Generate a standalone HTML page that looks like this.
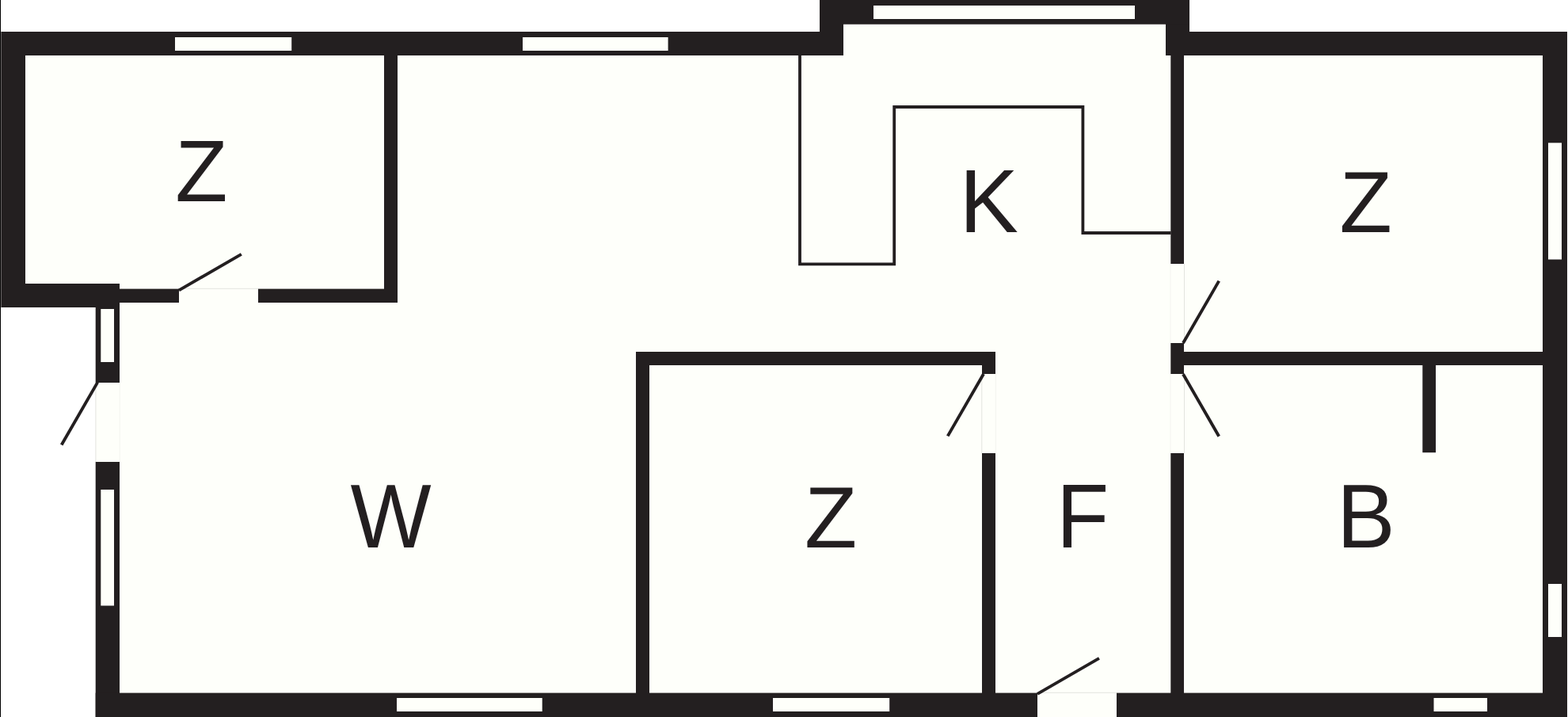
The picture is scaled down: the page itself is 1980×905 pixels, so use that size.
<!DOCTYPE html>
<html lang="de">
<head>
<meta charset="utf-8">
<title>Grundriss</title>
<style>
html,body{margin:0;padding:0;background:#fff;overflow:hidden}
svg{display:block}
text{font-family:"Liberation Sans",sans-serif;fill:#231f20;text-rendering:geometricPrecision}
</style>
</head>
<body>
<svg width="1980" height="905" viewBox="0 0 1980 905">
<rect x="0" y="0" width="1980" height="905" fill="#fefffa"/>
<g shape-rendering="auto">
<rect x="0" y="0" width="1035" height="40" fill="#fff"/>
<rect x="1502" y="0" width="478" height="40" fill="#fff"/>
<rect x="1979" y="0" width="1" height="905" fill="#fff"/>
<rect x="0" y="388" width="120.7" height="517" fill="#fff"/>
<rect x="0" y="0" width="1" height="905" fill="#000"/>
<rect x="1" y="40" width="1" height="348" fill="#6b6768"/>
<rect x="2" y="40" width="1063" height="30" fill="#231f20"/>
<rect x="2" y="40" width="30" height="348" fill="#231f20"/>
<rect x="2" y="358" width="149" height="30" fill="#231f20"/>
<rect x="151" y="364.6" width="75" height="17.4" fill="#231f20"/>
<rect x="326" y="364.6" width="176" height="17.4" fill="#231f20"/>
<rect x="485" y="70" width="17" height="312" fill="#231f20"/>
<rect x="120.7" y="388" width="30.3" height="95" fill="#231f20"/>
<rect x="120.7" y="583" width="30.3" height="322" fill="#231f20"/>
<rect x="120.7" y="874.6" width="1189.3" height="30.4" fill="#231f20"/>
<rect x="1410" y="874.6" width="569" height="30.4" fill="#231f20"/>
<rect x="1948" y="40" width="31" height="865" fill="#231f20"/>
<rect x="1472" y="40" width="507" height="30" fill="#231f20"/>
<rect x="1472" y="0" width="30" height="70" fill="#231f20"/>
<rect x="1035" y="0" width="467" height="30.7" fill="#231f20"/>
<rect x="1035" y="0" width="30" height="70" fill="#231f20"/>
<rect x="1478.3" y="70" width="16.7" height="263" fill="#231f20"/>
<rect x="1478.3" y="433" width="16.7" height="39" fill="#231f20"/>
<rect x="1478.3" y="572" width="16.7" height="303" fill="#231f20"/>
<rect x="1495" y="444" width="453" height="17" fill="#231f20"/>
<rect x="1796.3" y="461" width="16.7" height="110.2" fill="#231f20"/>
<rect x="803" y="444" width="454" height="17" fill="#231f20"/>
<rect x="803" y="444" width="17" height="431" fill="#231f20"/>
<rect x="1240" y="444" width="17" height="28" fill="#231f20"/>
<rect x="1240" y="572" width="17" height="303" fill="#231f20"/>
<rect x="221" y="47" width="147.2" height="17" fill="#fefffa"/>
<rect x="660" y="47" width="183.6" height="17" fill="#fefffa"/>
<rect x="1103" y="7" width="330" height="17" fill="#fefffa"/>
<rect x="127.3" y="390" width="16.7" height="67" fill="#fefffa"/>
<rect x="127.3" y="618" width="16.7" height="146.5" fill="#fefffa"/>
<rect x="501" y="881" width="183.7" height="17" fill="#fefffa"/>
<rect x="976" y="881" width="147.2" height="17" fill="#fefffa"/>
<rect x="1810.5" y="881" width="67.5" height="17" fill="#fefffa"/>
<rect x="1955" y="180.3" width="17" height="147.2" fill="#fefffa"/>
<rect x="1955" y="737" width="17" height="67" fill="#fefffa"/>
<rect x="226" y="364.6" width="100" height="17.4" fill="#fefffa"/>
<rect x="121" y="483" width="30" height="100" fill="#fefffa"/>
<rect x="1478.3" y="333" width="16.7" height="100" fill="#fefffa"/>
<rect x="1478.3" y="472" width="16.7" height="100" fill="#fefffa"/>
<rect x="1240" y="472" width="17" height="100" fill="#fefffa"/>
<rect x="1310" y="874.6" width="100" height="30.4" fill="#fefffa"/>
<line x1="226" y1="364.3" x2="326" y2="364.3" stroke="#e3e4df" stroke-width="1"/>
<line x1="120.9" y1="483" x2="120.9" y2="583" stroke="#e3e4df" stroke-width="1"/>
<line x1="151.2" y1="483" x2="151.2" y2="583" stroke="#f3f4ef" stroke-width="1"/>
<line x1="1495.5" y1="333" x2="1495.5" y2="433" stroke="#e3e4df" stroke-width="1"/>
<line x1="1478" y1="333" x2="1478" y2="433" stroke="#f3f4ef" stroke-width="1"/>
<line x1="1495.5" y1="472" x2="1495.5" y2="572" stroke="#e3e4df" stroke-width="1"/>
<line x1="1478" y1="472" x2="1478" y2="572" stroke="#f3f4ef" stroke-width="1"/>
<line x1="1239.8" y1="472" x2="1239.8" y2="572" stroke="#e3e4df" stroke-width="1"/>
<line x1="1257.3" y1="472" x2="1257.3" y2="572" stroke="#f3f4ef" stroke-width="1"/>
<line x1="1310" y1="874.3" x2="1410" y2="874.3" stroke="#e3e4df" stroke-width="1"/>
<polyline points="1010,70 1010,333.3 1129.2,333.3 1129.2,135 1367.4,135 1367.4,294 1478.5,294" fill="none" stroke="#231f20" stroke-width="3.8" stroke-linejoin="miter"/>
<line x1="226" y1="366.4" x2="304.808" y2="320.9" stroke="#231f20" stroke-width="3.9"/>
<line x1="123.2" y1="482.6" x2="77.7" y2="561.408" stroke="#231f20" stroke-width="3.9"/>
<line x1="1494" y1="433" x2="1539.25" y2="354.625" stroke="#231f20" stroke-width="3.9"/>
<line x1="1494" y1="472.3" x2="1539.25" y2="550.675" stroke="#231f20" stroke-width="3.9"/>
<line x1="1242" y1="472" x2="1196.75" y2="550.375" stroke="#231f20" stroke-width="3.9"/>
<line x1="1310" y1="875.9" x2="1387.94" y2="830.9" stroke="#231f20" stroke-width="3.9"/>
</g>
<text transform="translate(221.32 254.02) scale(0.9839 1.0026)" x="0" y="0" font-size="110">Z</text>
<text transform="translate(1211.60 293.40) scale(1.0144 1.0307)" x="0" y="0" font-size="110">K</text>
<text transform="translate(1691.57 293.40) scale(0.9874 0.9987)" x="0" y="0" font-size="110">Z</text>
<text transform="translate(442.53 691.00) scale(0.9837 1.0404)" x="0" y="0" font-size="110">W</text>
<text transform="translate(1016.09 691.00) scale(0.9858 0.9994)" x="0" y="0" font-size="110">Z</text>
<text transform="translate(1334.03 691.00) scale(0.9860 1.0439)" x="0" y="0" font-size="110">F</text>
<text transform="translate(1688.12 690.80) scale(1.0053 1.0417)" x="0" y="0" font-size="110">B</text>
</svg>
</body>
</html>
